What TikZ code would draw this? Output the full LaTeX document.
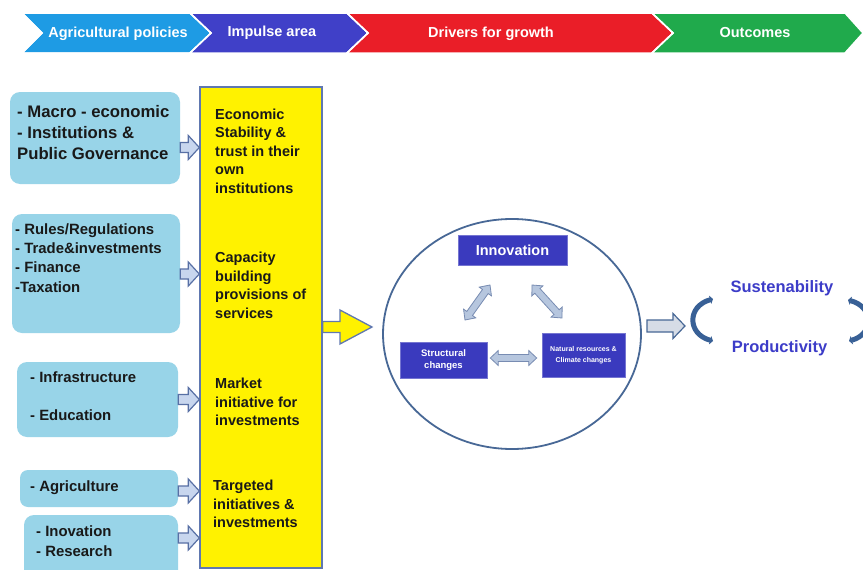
\documentclass[tikz,border=0pt]{standalone}
\usepackage{fontspec}
\setmainfont{Liberation Sans}
\usetikzlibrary{calc,arrows.meta,shapes.geometric}
\definecolor{bblue}{RGB}{30,155,228}
\definecolor{bpurple}{RGB}{64,64,200}
\definecolor{bred}{RGB}{234,30,40}
\definecolor{bgreen}{RGB}{32,170,76}
\definecolor{lbluebox}{RGB}{152,212,232}
\definecolor{yel}{RGB}{255,242,0}
\definecolor{yeledge}{RGB}{96,120,176}
\definecolor{circedge}{RGB}{72,104,150}
\definecolor{innov}{RGB}{58,58,190}
\definecolor{arrfill}{RGB}{200,214,238}
\definecolor{arredge}{RGB}{88,112,165}
\definecolor{dblfill}{RGB}{182,198,222}
\definecolor{dbledge}{RGB}{120,140,178}
\definecolor{grayfill}{RGB}{214,220,230}
\definecolor{outtxt}{RGB}{60,60,200}
\definecolor{brk}{RGB}{56,96,150}

% single block arrow: #1 style, #2 from, #3 to, #4 shaft half, #5 head half, #6 head length
\newcommand\blockarr[6]{%
  \coordinate (baH) at ($(#3)!#6!(#2)$);
  \draw[#1] ($(#2)!#4!90:(#3)$) -- ($(baH)!#4!90:(#3)$) -- ($(baH)!#5!90:(#3)$) -- (#3)
    -- ($(baH)!#5!-90:(#3)$) -- ($(baH)!#4!-90:(#3)$) -- ($(#2)!#4!-90:(#3)$) -- cycle;}
% double block arrow
\newcommand\dblarr[6]{%
  \coordinate (daA) at ($(#2)!#6!(#3)$);
  \coordinate (daB) at ($(#3)!#6!(#2)$);
  \draw[#1] (#2) -- ($(daA)!#5!90:(#3)$) -- ($(daA)!#4!90:(#3)$) -- ($(daB)!#4!90:(#3)$)
    -- ($(daB)!#5!90:(#3)$) -- (#3) -- ($(daB)!#5!-90:(#3)$) -- ($(daB)!#4!-90:(#3)$)
    -- ($(daA)!#4!-90:(#3)$) -- ($(daA)!#5!-90:(#3)$) -- cycle;}

\begin{document}
\begin{tikzpicture}[x=1pt,y=-1pt,
  chev/.style={draw=white,line width=1.5pt},
  bantext/.style={text=white,font=\fontsize{14.5}{17}\selectfont\bfseries,inner sep=0pt},
  lbox/.style={fill=lbluebox,rounded corners=10pt,inner sep=0pt},
  ltext/.style={anchor=west,align=left,inner sep=0pt,text=black!90},
  ytext/.style={anchor=west,align=left,inner sep=0pt,text=black!90,font=\fontsize{14.5}{18.5}\selectfont\bfseries},
  smallarr/.style={fill=arrfill,draw=arredge,line width=1.2pt,line join=miter},
  dbl/.style={fill=dblfill,draw=dbledge,line width=0.8pt},
  ibox/.style={fill=innov,draw=innov!70!white,line width=0.6pt,text=white,inner sep=0pt,align=center},
  outt/.style={text=outtxt,font=\fontsize{16.5}{19}\selectfont\bfseries,inner sep=0pt},
  bracket/.style={draw=brk,line width=5pt,{Triangle[width=8.5pt,length=3pt]}-{Triangle[width=8.5pt,length=3pt]}}]
\clip (0,0) rectangle (863,570);
\fill[white] (0,0) rectangle (863,570);

% banner
\fill[chev,fill=bblue]   (22,13) -- (190,13) -- (211,33) -- (190,53) -- (22,53) -- (42,33) -- cycle;
\fill[chev,fill=bpurple] (190,13) -- (347,13) -- (368,33) -- (347,53) -- (190,53) -- (211,33) -- cycle;
\fill[chev,fill=bred]    (347,13) -- (652,13) -- (673,33) -- (652,53) -- (347,53) -- (368,33) -- cycle;
\fill[chev,fill=bgreen]  (652,13) -- (845,13) -- (863,33) -- (845,53) -- (652,53) -- (673,33) -- cycle;
\draw[chev] (22,13) -- (190,13) -- (211,33) -- (190,53) -- (22,53) -- (42,33) -- cycle;
\draw[chev] (347,13) -- (368,33) -- (347,53);
\draw[chev] (652,13) -- (673,33) -- (652,53);
\node[bantext] (h1) at (118,34) {Agricultural policies};
\node[bantext] (h2) at (272,33) {Impulse area};
\node[bantext] (h3) at (491,34) {Drivers for growth};
\node[bantext] (h4) at (755,33) {Outcomes};

% left boxes
\node[lbox,minimum width=170pt,minimum height=92pt] (b1) at (95,138) {};
\node[lbox,minimum width=168pt,minimum height=119pt] (b2) at (96,273.5) {};
\node[lbox,minimum width=161pt,minimum height=75pt] (b3) at (97.5,399.5) {};
\node[lbox,minimum width=158pt,minimum height=37pt,rounded corners=8pt] (b4) at (99,488.5) {};
\node[lbox,minimum width=154pt,minimum height=66pt] (b5) at (101,548) {};

\node[ltext,font=\fontsize{16.7}{21}\selectfont\bfseries] (t1) at (17,133) {- Macro - economic\\- Institutions \&\\Public Governance};
\node[ltext,font=\fontsize{14.9}{19.3}\selectfont\bfseries] (t2) at (15,258) {- Rules/Regulations\\- Trade\&investments\\- Finance\\-Taxation};
\node[ltext,font=\fontsize{14.9}{19}\selectfont\bfseries] (t3) at (30,396) {- Infrastructure\\[19pt]- Education};
\node[ltext,font=\fontsize{14.9}{19}\selectfont\bfseries] (t4) at (30,488) {- Agriculture};
\node[ltext,font=\fontsize{14.9}{20}\selectfont\bfseries] (t5) at (36,541) {- Inovation\\- Research};

% yellow column
\node[fill=yel,draw=yeledge,line width=1.4pt,minimum width=122pt,minimum height=481pt,inner sep=0pt] (yc) at (261,327.5) {};
\node[ytext] (y1) at (215,151) {Economic\\Stability \&\\trust in their\\own\\institutions};
\node[ytext] (y2) at (215,285.5) {Capacity\\building\\provisions of\\services};
\node[ytext] (y3) at (215,402) {Market\\initiative for\\investments};
\node[ytext] (y4) at (213,504) {Targeted\\initiatives \&\\investments};

% small arrows
\coordinate (a1s) at (b1.east |- 0,147.5); \coordinate (a1e) at (yc.west |- 0,147.5);
\coordinate (a2s) at (b2.east |- 0,274);   \coordinate (a2e) at (yc.west |- 0,274);
\coordinate (a3s) at (b3.east |- 0,399.5); \coordinate (a3e) at (yc.west |- 0,399.5);
\coordinate (a4s) at (b4.east |- 0,491);   \coordinate (a4e) at (yc.west |- 0,491);
\coordinate (a5s) at (b5.east |- 0,538);   \coordinate (a5e) at (yc.west |- 0,538);
\blockarr{smallarr}{a1s}{a1e}{5pt}{12pt}{11pt}
\blockarr{smallarr}{a2s}{a2e}{5pt}{12pt}{11pt}
\blockarr{smallarr}{a3s}{a3e}{5pt}{12pt}{11pt}
\blockarr{smallarr}{a4s}{a4e}{5pt}{12pt}{11pt}
\blockarr{smallarr}{a5s}{a5e}{5pt}{12pt}{11pt}

% drivers circle
\node[draw=circedge,line width=1.8pt,ellipse,minimum width=258pt,minimum height=230pt,inner sep=0pt] (drv) at (512,334) {};
\coordinate (ya) at (yc.east |- 0,327);
\coordinate (yb) at (372,327);
\blockarr{fill=yel,draw=yeledge,line width=1.3pt}{ya}{yb}{5.5pt}{17pt}{32pt}

\node[ibox,minimum width=109pt,minimum height=30pt,font=\fontsize{14.5}{17}\selectfont\bfseries] (inn) at (512.5,250) {Innovation};
\node[ibox,minimum width=87pt,minimum height=36pt,font=\fontsize{9.5}{12}\selectfont\bfseries] (str) at (443.5,360) {Structural\\changes};
\node[ibox,minimum width=83pt,minimum height=44pt,font=\fontsize{7}{11}\selectfont\bfseries] (nat) at (583.5,355) {Natural resources \&\\Climate changes};

\coordinate (d1a) at (490,285); \coordinate (d1b) at (465,320);
\coordinate (d2a) at (532,285); \coordinate (d2b) at (562,318);
\coordinate (d3a) at ($(str.east)+(3,-2)$); \coordinate (d3b) at ($(nat.west)+(-5,3)$);
\dblarr{dbl}{d1a}{d1b}{3.5pt}{7.5pt}{8pt}
\dblarr{dbl}{d2a}{d2b}{3.5pt}{7.5pt}{8pt}
\dblarr{dbl}{d3a}{d3b}{3.5pt}{7.5pt}{8pt}

% outcomes
\coordinate (oa) at (647,326); \coordinate (ob) at (685,326);
\blockarr{fill=grayfill,draw=circedge,line width=1.2pt}{oa}{ob}{6pt}{12.5pt}{12pt}
\draw[bracket] (713,299) .. controls (687,306) and (687,334) .. (713,341);
\draw[bracket] (848,300) .. controls (874,307) and (874,334) .. (849,341);
\node[outt] (sus) at (782,288) {Sustenability};
\node[outt] (pro) at (779.5,348) {Productivity};
\end{tikzpicture}
\end{document}
